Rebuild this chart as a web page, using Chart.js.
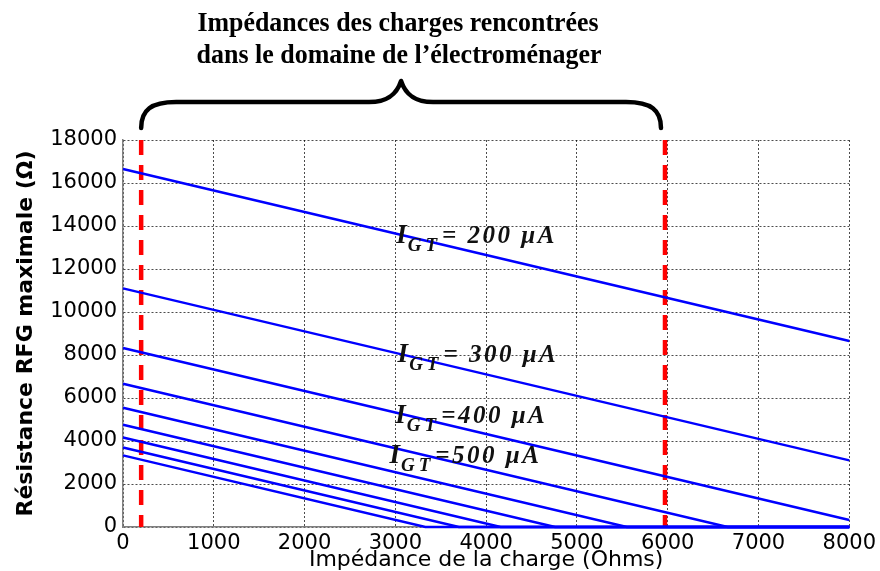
<!DOCTYPE html>
<html>
<head>
<meta charset="utf-8">
<script src="https://cdn.jsdelivr.net/npm/chart.js@4.4.1/dist/chart.umd.min.js"></script>
<style>
    html, body { margin: 0; padding: 0; background: #fff; }
</style>
</head>
<body>
<canvas id="grafico" width="880" height="571"></canvas>
<script>
// Courants de gâchette (µA) et résistance RFG
const courants = ["200", "300", "400", "500", "600", "700", "800", "900", "1000"];
const rDepart = [16650, 11100, 8325, 6660, 5550, 4760, 4160, 3700, 3330]; // à Z = 0
const zFin = [8000, 8000, 8000, 6660, 5550, 4760, 4160, 3700, 3330];
const rFin = [8650, 3100, 325, 0, 0, 0, 0, 0, 0];
const zLimites = [200, 5970];
const xTicks = [0, 1000, 2000, 3000, 4000, 5000, 6000, 7000, 8000];
const yTicks = [0, 2000, 4000, 6000, 8000, 10000, 12000, 14000, 16000, 18000];
const etiquettes = ["= 200 \u03bcA", "= 300 \u03bcA", "=400 \u03bcA", "=500 \u03bcA"];
const titreLignes = ["Impédances des charges rencontrées", "dans le domaine de l\u2019électroménager"];

// position des étiquettes (Z, R)
const etiquettesPos = [[3010, 13200], [3025, 7690], [3000, 4840], [2935, 2960]];

const grafico = document.getElementById("grafico");

let datasets = [];
courants.forEach((c, i) => {
    let pts = [{ x: 0, y: rDepart[i] }, { x: zFin[i], y: rFin[i] }];
    if (zFin[i] < xTicks[xTicks.length - 1]) {
        pts.push({ x: xTicks[xTicks.length - 1], y: 0 });
    }
    datasets.push({
        label: c + " µA",
        data: pts,
        borderColor: "#0000ff",
        borderWidth: 2.5,
        pointRadius: 0,
        clip: 2,
    });
});
zLimites.forEach((z) => {
    datasets.push({
        label: "limite " + z,
        data: [{ x: z, y: yTicks[yTicks.length - 1] }, { x: z, y: 0 }],
        borderColor: "#ff0000",
        borderWidth: 4.5,
        borderDash: [15, 10],
        pointRadius: 0,
    });
});

// titre, accolade et étiquettes I_GT
const decor = {
    id: "decor",
    afterDraw(chart) {
        const ctx = chart.ctx;
        const xs = chart.scales.x;
        const ys = chart.scales.y;
        ctx.save();

        // étiquettes
        ctx.fillStyle = "#111";
        ctx.textBaseline = "alphabetic";
        ctx.textAlign = "left";
        etiquettes.forEach((t, i) => {
            const x = xs.getPixelForValue(etiquettesPos[i][0]);
            const y = ys.getPixelForValue(etiquettesPos[i][1]);
            ctx.letterSpacing = "0px";
            ctx.font = 'italic bold 27px "Liberation Serif"';
            ctx.fillText("I", x, y);
            const w1 = ctx.measureText("I").width;
            ctx.font = 'italic bold 19px "Liberation Serif"';
            ctx.letterSpacing = "4px";
            ctx.fillText("GT", x + w1 + 1, y + 8);
            const w2 = ctx.measureText("GT").width;
            ctx.font = 'italic bold 25px "Liberation Serif"';
            ctx.letterSpacing = "2.5px";
            ctx.fillText(t, x + w1 + w2 + 2, y);
        });
        ctx.letterSpacing = "0px";

        // titre
        ctx.fillStyle = "#000";
        ctx.textAlign = "center";
        ctx.font = 'bold 27px "Liberation Serif"';
        ctx.fillText(titreLignes[0], 398, 31, 401);
        ctx.fillText(titreLignes[1], 399, 63, 405);

        // accolade
        const xa = xs.getPixelForValue(zLimites[0]);
        const xb = xs.getPixelForValue(zLimites[1]) - 4;
        const xm = (xa + xb) / 2;
        const yb = 128, yh = 102, yc = 81;
        ctx.beginPath();
        ctx.moveTo(xa, yb);
        ctx.bezierCurveTo(xa, 110, xa + 10, yh, xa + 35, yh);
        ctx.lineTo(xm - 32, yh);
        ctx.bezierCurveTo(xm - 12, yh, xm - 4, 93, xm, yc);
        ctx.bezierCurveTo(xm + 4, 93, xm + 12, yh, xm + 32, yh);
        ctx.lineTo(xb - 35, yh);
        ctx.bezierCurveTo(xb - 10, yh, xb, 110, xb, yb);
        ctx.lineWidth = 4.5;
        ctx.lineJoin = "round";
        ctx.lineCap = "round";
        ctx.strokeStyle = "#000";
        ctx.stroke();
        ctx.restore();
    },
};

const gridOpts = {
    color: "rgba(0,0,0,0.7)",
    lineWidth: 1,
    drawTicks: false,
};

new Chart(grafico, {
    type: "line",
    data: { datasets: datasets },
    options: {
        responsive: false,
        animation: false,
        layout: { padding: { top: 140, right: 30, left: 0, bottom: 0 } },
        scales: {
            x: {
                type: "linear",
                min: 0,
                max: 8000,
                afterBuildTicks: (s) => { s.ticks = xTicks.map((v) => ({ value: v })); },
                afterFit: (s) => { s.height = 44; },
                grid: gridOpts,
                border: { display: true, color: "#808080", width: 1.5, dash: [2, 2] },
                ticks: {
                    color: "#000",
                    padding: 4,
                    maxRotation: 0,
                    font: { family: "DejaVu Sans", size: 21 },
                    callback: (v) => v.toString(),
                },
                title: {
                    display: true,
                    text: "Impédance de la charge (Ohms)",
                    color: "#000",
                    padding: { top: 0, bottom: 0 },
                    font: { family: "DejaVu Sans", size: 22, lineHeight: 1.0 },
                },
            },
            y: {
                min: 0,
                max: 18000,
                afterBuildTicks: (s) => { s.ticks = yTicks.map((v) => ({ value: v })); },
                afterFit: (s) => { s.width = 123; },
                grid: gridOpts,
                border: { display: true, color: "#808080", width: 1.5, dash: [2, 2] },
                ticks: {
                    color: "#000",
                    padding: 6,
                    font: { family: "DejaVu Sans", size: 21 },
                    callback: (v) => v.toString(),
                },
                title: {
                    display: true,
                    text: "Résistance RFG maximale (\u03a9)",
                    color: "#000",
                    padding: { top: 13, bottom: 0 },
                    font: { family: "DejaVu Sans", size: 22, weight: "bold", lineHeight: 1.2 },
                },
            },
        },
        plugins: {
            legend: { display: false },
            tooltip: { enabled: false },
        },
    },
    plugins: [decor],
});
</script>
</body>
</html>
